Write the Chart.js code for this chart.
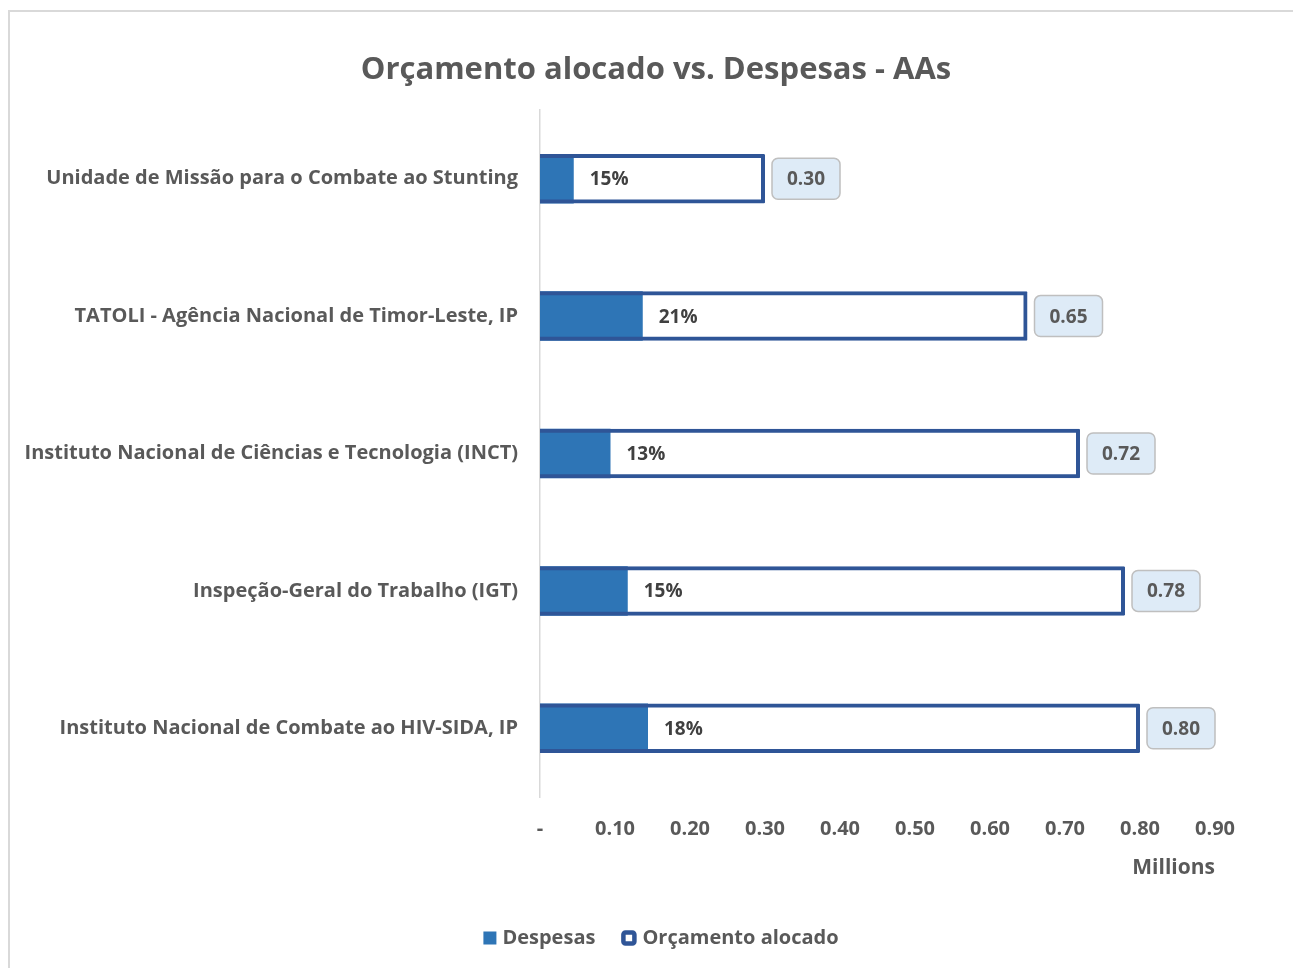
<!DOCTYPE html>
<html>
<head>
<meta charset="utf-8">
<script src="https://cdn.jsdelivr.net/npm/chart.js@4.4.1/dist/chart.umd.min.js"></script>
<style>
  html, body { margin: 0; padding: 0; background: #fff; overflow: hidden; }
  #frame {
    position: absolute; left: 8px; top: 10px;
    width: 1400px; height: 1000px;
    border: 2px solid #d9d9d9; box-sizing: border-box;
  }
  #wrap { position: absolute; left: 0; top: 0; width: 1293px; height: 968px; }
</style>
</head>
<body>
<div id="frame"></div>
<div id="wrap"><canvas id="budgetChart" width="1293" height="968"></canvas></div>
<script>
// values in millions
const categories = [
  'Unidade de Missão para o Combate ao Stunting',
  'TATOLI - Agência Nacional de Timor-Leste, IP',
  'Instituto Nacional de Ciências e Tecnologia (INCT)',
  'Inspeção-Geral do Trabalho (IGT)',
  'Instituto Nacional de Combate ao HIV-SIDA, IP'
];
const budget = [0.30, 0.65, 0.72, 0.78, 0.80];
const expenses = [0.045, 0.137, 0.094, 0.117, 0.144];
const tickLabels = ['-', '0.10', '0.20', '0.30', '0.40', '0.50', '0.60', '0.70', '0.80', '0.90'];
const seriesNames = ['Despesas', 'Orçamento alocado'];
const chartTitle = 'Orçamento alocado vs. Despesas - AAs';

const FONT = '"Open Sans", sans-serif';
const DARK = '#404040';
const GREY = '#595959';
const EXP_COLOR = '#2e75b6';
const BUD_COLOR = '#2f5597';

// percent label after expense bar, value box after budget bar
const barLabels = {
  id: 'barLabels',
  afterDatasetsDraw(chart) {
    const ctx = chart.ctx;
    const expMeta = chart.getDatasetMeta(0);
    const budMeta = chart.getDatasetMeta(1);
    ctx.save();
    ctx.font = 'bold 19px ' + FONT;
    ctx.textBaseline = 'middle';

    expMeta.data.forEach((bar, i) => {
      const pct = Math.round(expenses[i] / budget[i] * 100) + '%';
      ctx.fillStyle = DARK;
      ctx.textAlign = 'left';
      ctx.fillText(pct, bar.x + 16, bar.y + 1);
    });

    budMeta.data.forEach((bar, i) => {
      const w = 68, h = 41;
      const x = bar.x + 7, y = bar.y - h / 2;
      ctx.beginPath();
      ctx.roundRect(x, y, w, h, 6);
      ctx.fillStyle = '#deebf7';
      ctx.fill();
      ctx.lineWidth = 1.5;
      ctx.strokeStyle = '#bfbfbf';
      ctx.stroke();
      ctx.fillStyle = GREY;
      ctx.textAlign = 'center';
      ctx.fillText(budget[i].toFixed(2), x + w / 2, bar.y + 1);
    });
    ctx.restore();
  }
};

// title and legend drawn by hand so they can sit off the canvas centre
const titleLegend = {
  id: 'titleLegend',
  afterDraw(chart) {
    const ctx = chart.ctx;
    ctx.save();
    ctx.fillStyle = GREY;
    ctx.textAlign = 'center';
    ctx.textBaseline = 'middle';
    ctx.font = 'bold 31px ' + FONT;
    ctx.fillText(chartTitle, 656, 70);

    ctx.font = 'bold 20px ' + FONT;
    const w1 = ctx.measureText(seriesNames[0]).width;
    const w2 = ctx.measureText(seriesNames[1]).width;
    const box = 13, gap = 6, between = 26;
    const total = box + gap + w1 + between + box + gap + w2;
    let x = 660 - total / 2;
    const y = 938;
    ctx.textAlign = 'left';

    ctx.fillStyle = EXP_COLOR;
    ctx.fillRect(x, y - box / 2, box, box);
    x += box + gap;
    ctx.fillStyle = GREY;
    ctx.fillText(seriesNames[0], x, y);
    x += w1 + between;

    ctx.beginPath();
    ctx.roundRect(x + 2, y - 5.5, 11, 11, 2);
    ctx.fillStyle = '#fff';
    ctx.fill();
    ctx.lineWidth = 4.5;
    ctx.strokeStyle = BUD_COLOR;
    ctx.stroke();
    x += box + gap + 2;
    ctx.fillStyle = GREY;
    ctx.fillText(seriesNames[1], x, y);
    ctx.restore();
  }
};

new Chart(document.getElementById('budgetChart'), {
  type: 'bar',
  data: {
    labels: categories,
    datasets: [
      {
        label: seriesNames[0],
        data: expenses,
        backgroundColor: EXP_COLOR,
        borderWidth: 0,
        grouped: false,
        order: 2,
        barPercentage: 0.36,
        categoryPercentage: 1
      },
      {
        label: seriesNames[1],
        data: budget,
        backgroundColor: 'rgba(255,255,255,0)',
        borderColor: BUD_COLOR,
        borderWidth: 4,
        borderRadius: 1,
        grouped: false,
        order: 1,
        barPercentage: 0.36,
        categoryPercentage: 1
      }
    ]
  },
  options: {
    indexAxis: 'y',
    responsive: false,
    animation: false,
    layout: { padding: { left: 10, right: 78, top: 110, bottom: 60 } },
    plugins: {
      title: { display: false },
      legend: { display: false },
      tooltip: { enabled: false }
    },
    scales: {
      x: {
        min: 0,
        max: 0.9,
        ticks: {
          stepSize: 0.1,
          color: GREY,
          padding: 20,
          font: { family: FONT, size: 20, weight: 'bold' },
          callback: (v, i) => tickLabels[i]
        },
        grid: { display: false, drawTicks: false },
        border: { display: false },
        title: {
          display: true,
          text: 'Millions',
          align: 'end',
          color: GREY,
          font: { family: FONT, size: 21, weight: 'bold', lineHeight: 1.2 },
          padding: { top: 0, bottom: 27 }
        },
        afterFit: (scale) => { scale.height = 111; }
      },
      y: {
        ticks: {
          color: GREY,
          padding: 22,
          font: { family: FONT, size: 20, weight: 'bold' }
        },
        grid: { display: false, drawTicks: false },
        border: { display: true, color: '#d9d9d9', width: 1.5 },
        afterFit: (scale) => { scale.width = 530; }
      }
    }
  },
  plugins: [barLabels, titleLegend]
});
</script>
</body>
</html>
